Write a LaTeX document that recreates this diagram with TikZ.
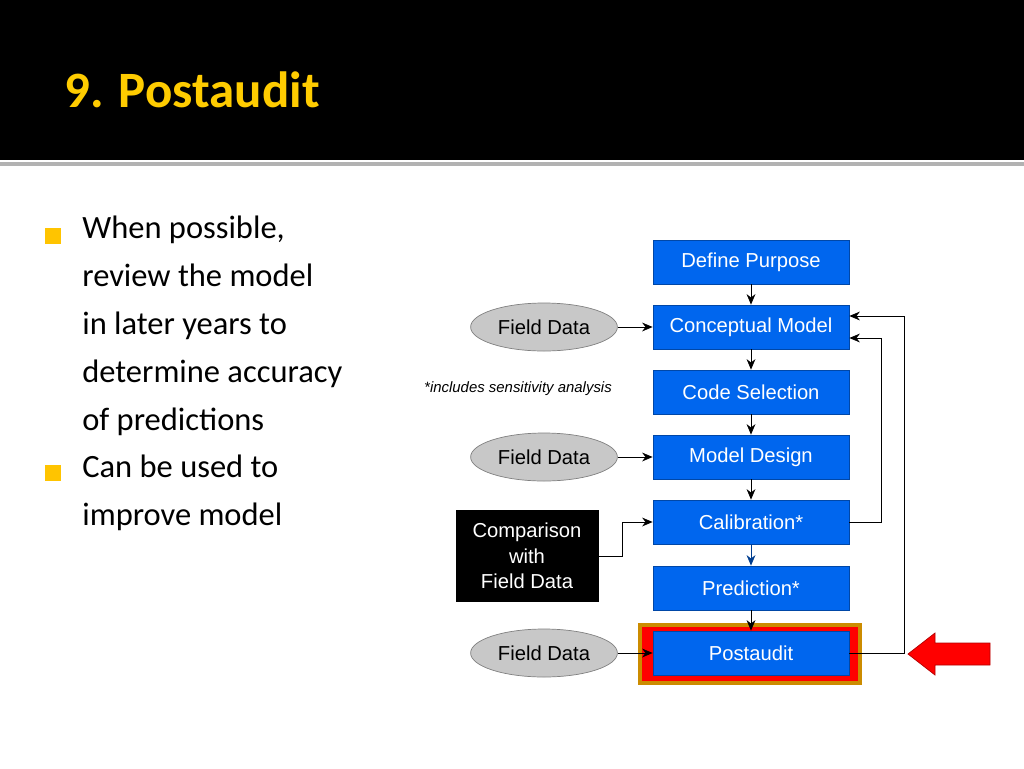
\documentclass[tikz,border=0pt]{standalone}
\usepackage{fontspec}
\setmainfont{Carlito}
\newfontfamily\arialfont{Liberation Sans}
\usetikzlibrary{arrows.meta, shapes.geometric, positioning}
\definecolor{stepblue}{RGB}{0,102,238}
\definecolor{titleyellow}{RGB}{255,204,0}
\definecolor{ovalgray}{RGB}{200,200,200}
\definecolor{frameorange}{RGB}{204,140,0}

\begin{document}
\begin{tikzpicture}[
  x=0.02cm, y=-0.02cm,
  stepbox/.style={rectangle, fill=stepblue, draw=stepblue!70!black, text=white, minimum width=196*0.02cm, minimum height=44*0.02cm, font=\arialfont\fontsize{11.5}{13}\selectfont},
  datanode/.style={ellipse, fill=ovalgray, draw=gray, minimum width=130*0.02cm, minimum height=48*0.02cm, font=\arialfont\fontsize{11.5}{13}\selectfont},
  arrow/.style={-{Stealth[length=6pt,width=5pt]}, thin},
  bullet/.style={fill=titleyellow!90!orange, minimum size=9pt, inner sep=0pt}
]
\useasboundingbox (0,0) rectangle (1024,768);
\fill[black] (0,0) rectangle (1024,160);
\fill[gray!60] (0,162) rectangle (1024,166);
\node[anchor=west, text=titleyellow, font=\bfseries\fontsize{29}{32}\selectfont] (title) at (58,90) {9. Postaudit};

% bullet text
\node[bullet] (b1) at (53,236) {};
\node[bullet] (b2) at (53,473) {};
\node[anchor=north west, align=left, inner sep=0pt, font=\fontsize{18.5}{27.2}\selectfont] (body) at (82,216)
  {When possible,\\review the model\\in later years to\\determine accuracy\\of predictions\\Can be used to\\improve model};

% flow chart
\fill[frameorange] (638,623) rectangle (862,685);
\fill[red] (642,627) rectangle (858,681);
\node[stepbox] (purpose) at (751,262) {Define Purpose};
\node[stepbox] (concept) at (751,327) {Conceptual Model};
\node[stepbox] (code) at (751,392) {Code Selection};
\node[stepbox] (design) at (751,457) {Model Design};
\node[stepbox] (calib) at (751,522) {Calibration*};
\node[stepbox] (predict) at (751,588) {Prediction*};
\node[stepbox] (audit) at (751,653) {Postaudit};

\node[datanode] (field1) at (544,327) {Field Data};
\node[datanode] (field2) at (544,457) {Field Data};
\node[datanode] (field3) at (544,653) {Field Data};
\node[rectangle, fill=black, text=white, align=center, minimum width=143*0.02cm, minimum height=92*0.02cm, font=\arialfont\fontsize{11.5}{14.5}\selectfont] (compare) at (527,556) {Comparison\\with\\Field Data};
\node[font=\arialfont\itshape\fontsize{8.5}{10}\selectfont] (sens) at (518,389) {*includes sensitivity analysis};

\draw[arrow] (purpose) -- (concept);
\draw[arrow] (concept) -- (code);
\draw[arrow] (code) -- (design);
\draw[arrow] (design) -- (calib);
\draw[arrow, stepblue!60!black] (calib) -- (predict);
\draw[arrow] (predict) -- (audit);
\draw[arrow] (field1) -- (concept);
\draw[arrow] (field2) -- (design);
\draw[arrow] (field3) -- (audit);
\draw[arrow] (compare.east |- 0,556) -| (622,522) -- (calib.west);
\draw[arrow] (calib.east) -| (881,338) -- (concept.east |- 0,338);
\draw[arrow] (audit.east) -| (904,316) -- (concept.east |- 0,316);

% pointer
\fill[red, draw=red!70!black] (908,654) -- (935,633) -- (935,643) -- (990,643) -- (990,665) -- (935,665) -- (935,675) -- cycle;
\end{tikzpicture}
\end{document}
